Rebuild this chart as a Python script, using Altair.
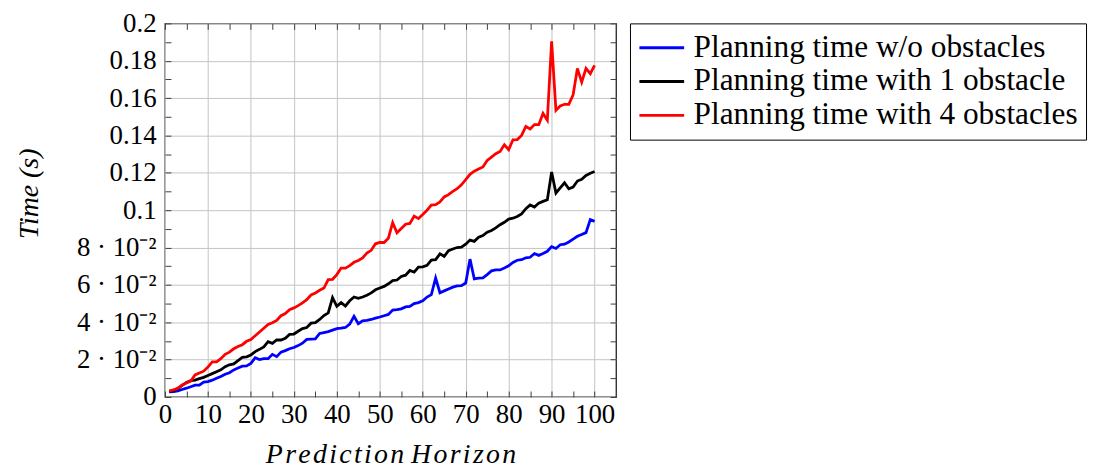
import altair as alt
import pandas as pd

# ---------------- data ----------------
horizon = list(range(1, 101))

t_no_obs = [
    0.0028, 0.0029, 0.0033, 0.0040, 0.0047, 0.0055, 0.0063, 0.0064, 0.0080, 0.0082,
    0.0090, 0.0100, 0.0110, 0.0122, 0.0130, 0.0145, 0.0155, 0.0165, 0.0166, 0.0180,
    0.0210, 0.0200, 0.0205, 0.0205, 0.0228, 0.0216, 0.0240, 0.0248, 0.0258, 0.0265,
    0.0275, 0.0288, 0.0308, 0.0310, 0.0311, 0.0340, 0.0345, 0.0350, 0.0358, 0.0366,
    0.0368, 0.0372, 0.0390, 0.0432, 0.0392, 0.0408, 0.0410, 0.0415, 0.0422, 0.0428,
    0.0435, 0.0442, 0.0465, 0.0468, 0.0472, 0.0482, 0.0485, 0.0500, 0.0505, 0.0515,
    0.0535, 0.0548, 0.0637, 0.0558, 0.0568, 0.0578, 0.0588, 0.0595, 0.0596, 0.0610,
    0.0738, 0.0632, 0.0636, 0.0638, 0.0655, 0.0675, 0.0680, 0.0680, 0.0690, 0.0702,
    0.0720, 0.0732, 0.0735, 0.0745, 0.0748, 0.0768, 0.0758, 0.0768, 0.0780, 0.0805,
    0.0795, 0.0815, 0.0818, 0.0830, 0.0845, 0.0860, 0.0870, 0.0880, 0.0950, 0.0940,
]

t_one_obs = [
    0.0028, 0.0035, 0.0045, 0.0062, 0.0078, 0.0087, 0.0090, 0.0098, 0.0105, 0.0115,
    0.0125, 0.0135, 0.0145, 0.0162, 0.0172, 0.0177, 0.0195, 0.0212, 0.0215, 0.0225,
    0.0243, 0.0255, 0.0268, 0.0296, 0.0287, 0.0305, 0.0305, 0.0314, 0.0335, 0.0337,
    0.0352, 0.0366, 0.0372, 0.0395, 0.0398, 0.0415, 0.0436, 0.0450, 0.0532, 0.0485,
    0.0505, 0.0487, 0.0515, 0.0535, 0.0528, 0.0535, 0.0545, 0.0557, 0.0574, 0.0583,
    0.0592, 0.0606, 0.0623, 0.0626, 0.0645, 0.0652, 0.0677, 0.0668, 0.0695, 0.0697,
    0.0705, 0.0733, 0.0735, 0.0766, 0.0753, 0.0783, 0.0792, 0.0800, 0.0802, 0.0818,
    0.0840, 0.0833, 0.0855, 0.0864, 0.0882, 0.0891, 0.0905, 0.0922, 0.0935, 0.0952,
    0.0957, 0.0966, 0.0980, 0.1008, 0.1028, 0.1017, 0.1038, 0.1047, 0.1056, 0.1204,
    0.1092, 0.1120, 0.1147, 0.1115, 0.1124, 0.1156, 0.1165, 0.1186, 0.1198, 0.1207,
]

t_four_obs = [
    0.0033, 0.0038, 0.0047, 0.0064, 0.0075, 0.0085, 0.0118, 0.0128, 0.0138, 0.0160,
    0.0188, 0.0188, 0.0205, 0.0228, 0.0240, 0.0258, 0.0270, 0.0280, 0.0298, 0.0308,
    0.0328, 0.0348, 0.0368, 0.0388, 0.0397, 0.0410, 0.0435, 0.0447, 0.0467, 0.0477,
    0.0489, 0.0504, 0.0521, 0.0546, 0.0557, 0.0571, 0.0583, 0.0628, 0.0630, 0.0655,
    0.0690, 0.0690, 0.0703, 0.0721, 0.0731, 0.0744, 0.0771, 0.0785, 0.0820, 0.0827,
    0.0827, 0.0850, 0.0933, 0.0879, 0.0902, 0.0925, 0.0929, 0.0968, 0.0955, 0.0977,
    0.1000, 0.1027, 0.1030, 0.1044, 0.1071, 0.1083, 0.1101, 0.1115, 0.1136, 0.1163,
    0.1192, 0.1209, 0.1220, 0.1231, 0.1266, 0.1284, 0.1302, 0.1314, 0.1350, 0.1324,
    0.1377, 0.1378, 0.1400, 0.1448, 0.1435, 0.1458, 0.1458, 0.1518, 0.1482, 0.1904,
    0.1535, 0.1558, 0.1567, 0.1567, 0.1617, 0.1759, 0.1686, 0.1759, 0.1731, 0.1775,
]

series_names = [
    "Planning time w/o obstacles",
    "Planning time with 1 obstacle",
    "Planning time with 4 obstacles",
]
series_colors = ["#0000ff", "#000000", "#ff0000"]

x_tick_values = [0, 10, 20, 30, 40, 50, 60, 70, 80, 90, 100]
x_minor_values = [0, 5, 10, 15, 20, 25, 30, 35, 40, 45, 50, 55, 60, 65, 70, 75, 80, 85, 90, 95, 100, 105]
y_tick_values = [0, 0.02, 0.04, 0.06, 0.08, 0.1, 0.12, 0.14, 0.16, 0.18, 0.2]
y_tick_labels = ["0", "2 · 10⁻²", "4 · 10⁻²", "6 · 10⁻²", "8 · 10⁻²",
                 "0.1", "0.12", "0.14", "0.16", "0.18", "0.2"]
y_minor_values = [0, 0.01, 0.02, 0.03, 0.04, 0.05, 0.06, 0.07, 0.08, 0.09, 0.1,
                  0.11, 0.12, 0.13, 0.14, 0.15, 0.16, 0.17, 0.18, 0.19, 0.2]

# math-italic style spacing (hair spaces between letters)
x_title = "\u200a".join("Prediction") + "  " + "\u200a".join("Horizon")
y_title = "Time (s)"

# ---------------- table ----------------
rows = []
for name, vals in zip(series_names, [t_no_obs, t_one_obs, t_four_obs]):
    for h, v in zip(horizon, vals):
        rows.append({"h": h, "t": v, "series": name})
df = pd.DataFrame(rows)

W, H = 454, 376
FONT = "Liberation Serif"
GRID = "#c4c4c4"
TICK = "#404040"

xscale = alt.Scale(domain=[0, 105], nice=False, zero=False)
yscale = alt.Scale(domain=[0, 0.2], nice=False)

label_expr = "[" + ",".join("'" + s + "'" for s in y_tick_labels) + "][round(datum.value*50)]"

lines = alt.Chart(df).mark_line(strokeWidth=2.8, clip=True).encode(
    x=alt.X("h:Q", scale=xscale, axis=alt.Axis(
        orient="bottom", values=x_tick_values, format="d", title=x_title,
        grid=True, gridColor=GRID, gridWidth=1, ticks=False, domain=False,
        labelFont=FONT, labelFontSize=27, labelColor="black", labelPadding=5,
        labelFlush=False, labelOverlap=False,
        titleFont=FONT, titleFontSize=28, titleFontStyle="italic", titleFontWeight="normal",
        titleColor="black", titleBaseline="alphabetic", titleY=66, titleLimit=600)),
    y=alt.Y("t:Q", scale=yscale, axis=alt.Axis(
        orient="left", values=y_tick_values, labelExpr=label_expr, title=y_title,
        grid=True, gridColor=GRID, gridWidth=1, ticks=False, domain=False,
        labelFont=FONT, labelFontSize=27, labelColor="black", labelPadding=9,
        labelFlush=False, labelOverlap=False, labelBaseline="middle",
        titleFont=FONT, titleFontSize=28, titleFontStyle="italic", titleFontWeight="normal",
        titleColor="black", titleAngle=270, titleAlign="center", titleBaseline="alphabetic",
        titleX=-128, titleY=171)),
    color=alt.Color("series:N", sort=series_names,
                    scale=alt.Scale(domain=series_names, range=series_colors),
                    legend=alt.Legend(
                        title=None, orient="none", legendX=468, legendY=0,
                        strokeColor="black", fillColor="white", padding=8,
                        symbolType="stroke", symbolSize=2025, symbolStrokeWidth=2.8,
                        clipHeight=33, rowPadding=1, labelOffset=8,
                        labelFont=FONT, labelFontSize=31.5, labelColor="black", labelLimit=600)),
)

ticks_a = alt.Chart(df).mark_point(opacity=0).encode(
    x=alt.X("h:Q", scale=xscale, axis=alt.Axis(
        orient="top", offset=-H, values=x_minor_values, labels=False, domain=False,
        grid=False, ticks=True, tickSize=6, tickColor=TICK, tickWidth=1, title="")),
    y=alt.Y("t:Q", scale=yscale, axis=alt.Axis(
        orient="right", offset=-W, values=y_minor_values, labels=False, domain=False,
        grid=False, ticks=True, tickSize=6, tickColor=TICK, tickWidth=1, title="")),
)

ticks_b = alt.Chart(df).mark_point(opacity=0).encode(
    x=alt.X("h:Q", scale=xscale, axis=alt.Axis(
        orient="bottom", offset=-H, values=x_minor_values, labels=False, domain=False,
        grid=False, ticks=True, tickSize=6, tickColor=TICK, tickWidth=1, title="")),
    y=alt.Y("t:Q", scale=yscale, axis=alt.Axis(
        orient="left", offset=-W, values=y_minor_values, labels=False, domain=False,
        grid=False, ticks=True, tickSize=6, tickColor=TICK, tickWidth=1, title="")),
)

chart = alt.layer(lines, ticks_a, ticks_b).resolve_axis(
    x="independent", y="independent"
).properties(
    width=W, height=H,
    autosize=alt.AutoSizeParams(type="none"),
    padding={"left": 158, "top": 14, "right": 477, "bottom": 71},
).configure_view(stroke="#222222", strokeWidth=1.3)

chart.save("out.html", embed_options={"renderer": "svg", "actions": False})
